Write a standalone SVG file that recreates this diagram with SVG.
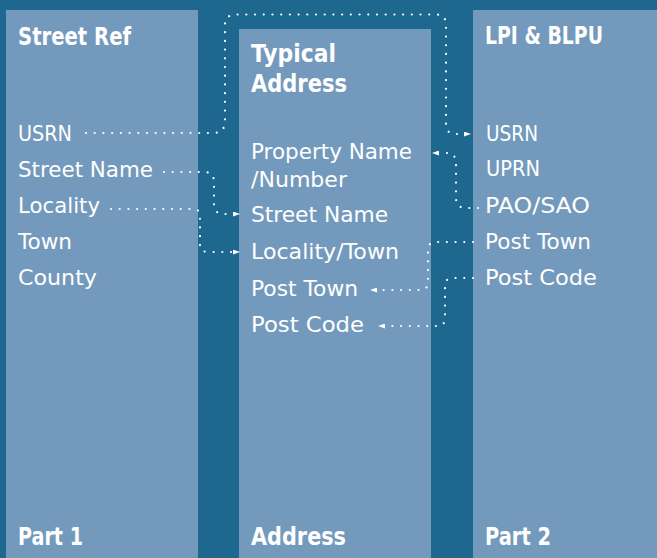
<svg xmlns="http://www.w3.org/2000/svg" width="657" height="558" viewBox="0 0 657 558">
<style>
.panel{fill:#739abc}
.t{font-family:"DejaVu Sans","Liberation Sans",sans-serif;fill:#ffffff}
.h{font-size:24px;font-weight:bold}
.i{font-size:21.5px}
.c{fill:none;stroke:#ffffff;stroke-width:2.2;stroke-linecap:round;stroke-dasharray:0.01 8.7}
</style>
<defs>
<marker id="ah" viewBox="0 0 7 5" refX="0" refY="2.5" markerWidth="7" markerHeight="5" markerUnits="userSpaceOnUse" orient="auto">
<path d="M0,0 L7,2.5 L0,5 Z" fill="#ffffff"/>
</marker>
</defs>
<rect width="657" height="558" fill="#1e6890"/>
<g id="street-ref">
<rect class="panel" x="6" y="10" width="192" height="548"/>
<text class="t h" x="18" y="45" textLength="113" lengthAdjust="spacingAndGlyphs">Street Ref</text>
<text class="t i" x="18" y="141" textLength="54" lengthAdjust="spacingAndGlyphs">USRN</text>
<text class="t i" x="18" y="177" textLength="135" lengthAdjust="spacingAndGlyphs">Street Name</text>
<text class="t i" x="18" y="213" textLength="82" lengthAdjust="spacingAndGlyphs">Locality</text>
<text class="t i" x="18" y="249" textLength="54" lengthAdjust="spacingAndGlyphs">Town</text>
<text class="t i" x="18" y="285" textLength="79" lengthAdjust="spacingAndGlyphs">County</text>
<text class="t h" x="18" y="545" textLength="65" lengthAdjust="spacingAndGlyphs">Part 1</text>
</g>
<g id="typical-address">
<rect class="panel" x="239" y="29" width="192" height="529"/>
<text class="t h" x="251" y="62" textLength="85" lengthAdjust="spacingAndGlyphs">Typical</text>
<text class="t h" x="251" y="92" textLength="96" lengthAdjust="spacingAndGlyphs">Address</text>
<text class="t i" x="251" y="159" textLength="161" lengthAdjust="spacingAndGlyphs">Property Name</text>
<text class="t i" x="251" y="187" textLength="96" lengthAdjust="spacingAndGlyphs">/Number</text>
<text class="t i" x="251" y="222" textLength="137" lengthAdjust="spacingAndGlyphs">Street Name</text>
<text class="t i" x="251" y="259" textLength="148" lengthAdjust="spacingAndGlyphs">Locality/Town</text>
<text class="t i" x="251" y="296" textLength="107" lengthAdjust="spacingAndGlyphs">Post Town</text>
<text class="t i" x="251" y="332" textLength="113" lengthAdjust="spacingAndGlyphs">Post Code</text>
<text class="t h" x="251" y="545" textLength="95" lengthAdjust="spacingAndGlyphs">Address</text>
</g>
<g id="lpi-blpu">
<rect class="panel" x="473" y="10" width="184" height="548"/>
<text class="t h" x="485" y="44" textLength="118" lengthAdjust="spacingAndGlyphs">LPI &amp; BLPU</text>
<text class="t i" x="486" y="141" textLength="52" lengthAdjust="spacingAndGlyphs">USRN</text>
<text class="t i" x="486" y="176" textLength="54" lengthAdjust="spacingAndGlyphs">UPRN</text>
<text class="t i" x="485" y="213" textLength="105" lengthAdjust="spacingAndGlyphs">PAO/SAO</text>
<text class="t i" x="485" y="249" textLength="106" lengthAdjust="spacingAndGlyphs">Post Town</text>
<text class="t i" x="485" y="285" textLength="112" lengthAdjust="spacingAndGlyphs">Post Code</text>
<text class="t h" x="485" y="545" textLength="66" lengthAdjust="spacingAndGlyphs">Part 2</text>
</g>
<g id="connectors">
<path class="c" marker-end="url(#ah)" d="M86,133 H213 Q225,133 225,121 V25 Q225,14.5 236,14.5 H436 Q446,14.5 446,25 V124 Q446,134 456,134 H464"/>
<path class="c" marker-end="url(#ah)" d="M164,172 H204 Q214,172 214,182 V204 Q214,214 224,214 H233"/>
<path class="c" marker-end="url(#ah)" d="M111,209 H193 Q200,209 200,216 V244 Q200,252 208,252 H233"/>
<path class="c" marker-end="url(#ah)" d="M478,208 H466 Q456,208 456,198 V163 Q456,153 446,153 H439"/>
<path class="c" marker-end="url(#ah)" d="M473,242 H436 Q428,242 428,250 V282 Q428,290 420,290 H377"/>
<path class="c" marker-end="url(#ah)" d="M473,278 H453 Q445,278 445,286 V318 Q445,326 437,326 H385"/>
</g>
</svg>
